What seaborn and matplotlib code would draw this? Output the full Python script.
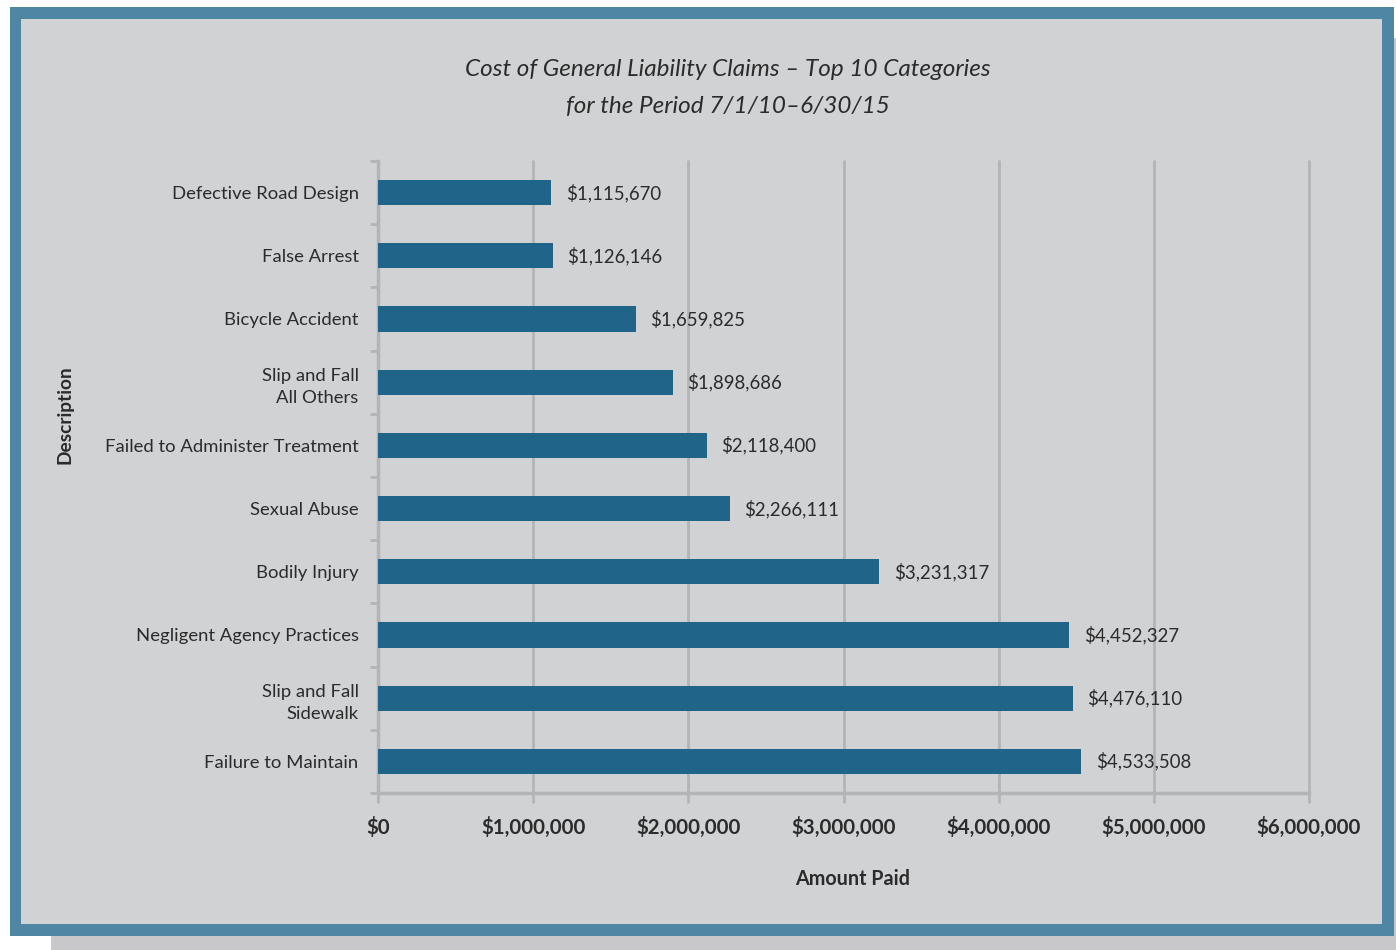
import matplotlib
matplotlib.use("Agg")
import matplotlib.pyplot as plt
from matplotlib.patches import Rectangle
from matplotlib.ticker import FixedLocator, FuncFormatter
import seaborn as sns
import pandas as pd

categories = [
    "Defective Road Design",
    "False Arrest",
    "Bicycle Accident",
    "Slip and Fall\nAll Others",
    "Failed to Administer Treatment",
    "Sexual Abuse",
    "Bodily Injury",
    "Negligent Agency Practices",
    "Slip and Fall\nSidewalk",
    "Failure to Maintain",
]
amounts = [1115670, 1126146, 1659825, 1898686, 2118400,
           2266111, 3231317, 4452327, 4476110, 4533508]
x_ticks = [0, 1000000, 2000000, 3000000, 4000000, 5000000, 6000000]

df = pd.DataFrame({"Description": categories, "Amount Paid": amounts})

sns.set_theme(style="white")
plt.rcParams["font.family"] = ["Lato", "DejaVu Sans"]

W, H = 1396, 950
fig = plt.figure(figsize=(W / 100, H / 100), dpi=100)
fig.patch.set_facecolor("white")


def px_rect(x0, y0, x1, y1, color, z):
    fig.patches.append(Rectangle((x0 / W, 1 - y1 / H), (x1 - x0) / W, (y1 - y0) / H,
                                 transform=fig.transFigure, facecolor=color,
                                 edgecolor="none", zorder=z))


# drop shadow, blue frame, gray panel
px_rect(51, 38, 1396, 950, "#C8C8CA", 0)
px_rect(10, 7, 1394, 936, "#4E86A4", 1)
px_rect(21, 19, 1382, 924, "#D1D2D4", 2)

ax = fig.add_axes([378 / W, 1 - 793 / H, (1309 - 378) / W, (793 - 161) / H])
ax.set_zorder(3)
ax.patch.set_alpha(0)

grid_c = "#B3B4B6"
text_c = "#2B2B2B"

sns.barplot(data=df, x="Amount Paid", y="Description", orient="h",
            color="#21648A", saturation=1, width=0.4, ax=ax, zorder=3,
            edgecolor="none", linewidth=0)

ax.set_xlim(0, 6000000)
ax.set_ylim(len(categories) - 0.5, -0.5)
ax.xaxis.set_major_locator(FixedLocator(x_ticks))
ax.xaxis.set_major_formatter(FuncFormatter(lambda v, p: f"${v:,.0f}"))
ax.grid(axis="x", color=grid_c, linewidth=2, zorder=0)
ax.grid(axis="y", visible=False)
ax.set_axisbelow(True)
for gl in ax.get_xgridlines():
    gl.set_clip_on(False)

for side in ["top", "right"]:
    ax.spines[side].set_visible(False)
for side in ["left", "bottom"]:
    ax.spines[side].set_color(grid_c)
    ax.spines[side].set_linewidth(2.5)

ax.tick_params(axis="x", which="major", length=7, width=2, color=grid_c,
               direction="out", pad=10, labelsize=14.8, labelcolor=text_c, bottom=True)
for lbl in ax.get_xticklabels():
    lbl.set_fontweight("bold")

ax.tick_params(axis="y", which="major", length=0, pad=14, labelsize=13.3, labelcolor=text_c)
ax.yaxis.set_minor_locator(FixedLocator([i - 0.5 for i in range(len(categories) + 1)]))
ax.tick_params(axis="y", which="minor", length=6, width=2, color=grid_c, left=True)
for lbl in ax.get_yticklabels():
    lbl.set_multialignment("right")
    lbl.set_linespacing(1.45)

for i, v in enumerate(amounts):
    ax.text(v + 95000, i, f"${v:,.0f}", va="center", ha="left",
            fontsize=13.4, color=text_c, zorder=4)

ax.set_xlabel("")
ax.set_ylabel("")
fig.text(65 / W, 1 - 415 / H, "Description", rotation=90, ha="center", va="center",
         fontsize=13.8, fontweight="bold", color=text_c, zorder=5)
fig.text(853 / W, 1 - 879 / H, "Amount Paid", ha="center", va="center",
         fontsize=14.2, fontweight="bold", color=text_c, zorder=5)

fig.text(728 / W, 1 - 70 / H, "Cost of General Liability Claims \u2013 Top 10 Categories",
         ha="center", va="center", fontsize=17.5, fontstyle="italic", color=text_c, zorder=5)
fig.text(728 / W, 1 - 107 / H, "for the Period 7/1/10\u20136/30/15",
         ha="center", va="center", fontsize=17.5, fontstyle="italic", color=text_c, zorder=5)

fig.savefig("out.png", dpi=100)
